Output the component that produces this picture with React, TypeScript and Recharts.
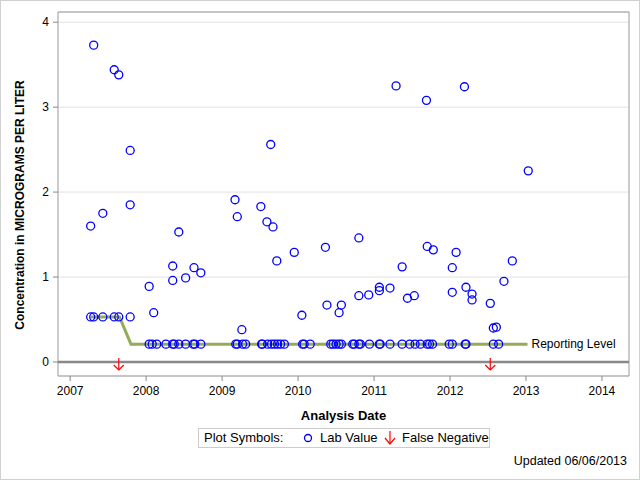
import React from "react";
import {
  ScatterChart,
  Scatter,
  XAxis,
  YAxis,
  CartesianGrid,
  ReferenceLine,
  ReferenceArea,
} from "recharts";

// lab values (decimal year, micrograms per liter)
const labDates = [
  2007.31, 2007.58, 2007.64, 2007.79, 2007.79, 2007.27, 2007.43,
  2008.04, 2008.10, 2008.35, 2008.35, 2008.43, 2008.52, 2008.63, 2008.72,
  2009.17, 2009.20, 2009.26, 2009.51, 2009.59, 2009.64, 2009.67, 2009.72, 2009.95,
  2010.05, 2010.36, 2010.38, 2010.54, 2010.57, 2010.80, 2010.80, 2010.93,
  2011.07, 2011.07, 2011.21, 2011.29, 2011.37, 2011.44, 2011.53, 2011.69, 2011.70, 2011.78,
  2012.03, 2012.03, 2012.08, 2012.19, 2012.21, 2012.29, 2012.29, 2012.53, 2012.57, 2012.61,
  2012.71, 2012.82, 2013.03,
];
const labValues = [
  3.73, 3.44, 3.38, 2.49, 1.85, 1.6, 1.75,
  0.89, 0.58, 1.13, 0.96, 1.53, 0.99, 1.11, 1.05,
  1.91, 1.71, 0.38, 1.83, 1.65, 2.56, 1.59, 1.19, 1.29,
  0.55, 1.35, 0.67, 0.58, 0.67, 1.46, 0.78, 0.79,
  0.88, 0.84, 0.87, 3.25, 1.12, 0.75, 0.78, 3.08, 1.36, 1.32,
  1.11, 0.82, 1.29, 3.24, 0.88, 0.8, 0.73, 0.69, 0.4, 0.41,
  0.95, 1.19, 2.25,
];

// values reported at the reporting level
const atLevelDatesHigh = [2007.27, 2007.31, 2007.43, 2007.58, 2007.64, 2007.79];
const atLevelDatesLow = [
  2008.04, 2008.08, 2008.14, 2008.26, 2008.35, 2008.37, 2008.43, 2008.52, 2008.62, 2008.64, 2008.72,
  2009.18, 2009.20, 2009.27, 2009.31, 2009.52, 2009.53, 2009.60, 2009.65, 2009.69, 2009.73, 2009.77,
  2009.82, 2010.06, 2010.08, 2010.16, 2010.43, 2010.46, 2010.50, 2010.54, 2010.57, 2010.72, 2010.74,
  2010.80, 2010.82, 2010.94, 2011.07, 2011.08, 2011.21, 2011.37, 2011.47, 2011.54, 2011.61, 2011.70,
  2011.73, 2011.77, 2011.99, 2012.03, 2012.20, 2012.21, 2012.57, 2012.64,
];
const levelHigh = 0.53;
const levelLow = 0.21;

// reporting level step line
const rlDates = [2007.27, 2007.65, 2007.8, 2013.02];
const rlValues = [0.53, 0.53, 0.21, 0.21];

// false negatives
const fnDates = [2007.64, 2012.53];

const xTicks = [2007, 2008, 2009, 2010, 2011, 2012, 2013, 2014];
const yTicks = [0, 1, 2, 3, 4];
const X_MIN = 2006.84;
const X_MAX = 2014.356;
const Y_MIN = -0.165;
const Y_MAX = 4.12;

const labData = [
  ...labDates.map((x, i) => ({ x, y: labValues[i] })),
  ...atLevelDatesHigh.map((x) => ({ x, y: levelHigh })),
  ...atLevelDatesLow.map((x) => ({ x, y: levelLow })),
];
const rlData = rlDates.map((x, i) => ({
  x,
  y: rlValues[i],
  label: i === rlDates.length - 1 ? "Reporting Level" : "",
}));
const fnData = fnDates.map((x) => ({ x, y: 0 }));

const FONT = "'Liberation Sans', Arial, sans-serif";

const Circle = (p: any) => (
  <circle cx={p.cx} cy={p.cy} r={4} fill="none" stroke="#0000ff" strokeWidth={1.3} />
);

const Arrow = (p: any) => (
  <g stroke="#ff0000" strokeWidth={1.2} fill="none">
    <line x1={p.cx} y1={p.cy - 4} x2={p.cx} y2={p.cy + 8} />
    <polyline points={`${p.cx - 5},${p.cy + 3} ${p.cx},${p.cy + 8} ${p.cx + 5},${p.cy + 3}`} />
  </g>
);

const LevelLabel = (p: any) =>
  p.payload && p.payload.label ? (
    <text x={p.cx + 4} y={p.cy} dy={4} fontSize={12} fill="#000" fontFamily={FONT}>
      {p.payload.label}
    </text>
  ) : (
    <g />
  );

export default function App() {
  return (
    <div style={{ position: "absolute", left: 0, top: 0, width: 640, height: 480, background: "#fff", fontFamily: FONT }}>
      <ScatterChart width={640} height={480} margin={{ top: 12, right: 11, left: 0, bottom: 54 }}>
        <CartesianGrid vertical={false} stroke="#e2e2e2" />
        <XAxis
          type="number"
          dataKey="x"
          domain={[X_MIN, X_MAX]}
          ticks={xTicks}
          allowDataOverflow
          height={50}
          axisLine={false}
          tickSize={5}
          tickMargin={5}
          tickLine={{ stroke: "#888" }}
          tick={{ fontSize: 12, fill: "#000", fontFamily: FONT }}
          label={{ value: "Analysis Date", position: "insideBottom", offset: 6, fontSize: 13, fontWeight: "bold", fill: "#000", fontFamily: FONT }}
        />
        <YAxis
          type="number"
          dataKey="y"
          domain={[Y_MIN, Y_MAX]}
          ticks={yTicks}
          allowDataOverflow
          width={58}
          axisLine={false}
          tickSize={5}
          tickMargin={4}
          tickLine={{ stroke: "#888" }}
          tick={{ fontSize: 12, fill: "#000", fontFamily: FONT }}
          label={(props: any) => {
            const vb = props.viewBox || {};
            const cy = (vb.y ?? 12) + (vb.height ?? 364) / 2 + 11;
            return (
              <text
                x={20}
                y={cy}
                transform={`rotate(-90 20 ${cy})`}
                textAnchor="middle"
                dominantBaseline="central"
                fontSize={12}
                fontWeight="bold"
                fill="#000"
                fontFamily={FONT}
              >
                Concentration in MICROGRAMS PER LITER
              </text>
            );
          }}
        />
        <ReferenceLine y={0} stroke="#888" strokeWidth={2.5} />
        <Scatter
          data={rlData}
          line={{ stroke: "#93ad57", strokeWidth: 3 }}
          lineType="joint"
          shape={LevelLabel}
          isAnimationActive={false}
        />
        <Scatter data={labData} shape={Circle} isAnimationActive={false} />
        <Scatter data={fnData} shape={Arrow} isAnimationActive={false} />
        <ReferenceArea x1={X_MIN} x2={X_MAX} y1={Y_MIN} y2={Y_MAX} fill="none" stroke="#999" strokeWidth={1} ifOverflow="visible" />
      </ScatterChart>

      <div
        style={{
          position: "absolute",
          left: 198,
          top: 428,
          width: 292,
          height: 20,
          border: "1px solid #ccc",
          boxSizing: "border-box",
          fontSize: 13,
          color: "#000",
        }}
      >
        <span style={{ position: "absolute", left: 5, top: 1 }}>Plot Symbols:</span>
        <svg style={{ position: "absolute", left: 104, top: 4 }} width={10} height={10}>
          <circle cx={5} cy={5} r={3.5} fill="none" stroke="#0000ff" strokeWidth={1.3} />
        </svg>
        <span style={{ position: "absolute", left: 121, top: 1 }}>Lab Value</span>
        <svg style={{ position: "absolute", left: 185, top: 2 }} width={12} height={14}>
          <g stroke="#ff0000" strokeWidth={1.2} fill="none">
            <line x1={6} y1={0} x2={6} y2={13} />
            <polyline points="1,7 6,13 11,7" />
          </g>
        </svg>
        <span style={{ position: "absolute", left: 203, top: 1 }}>False Negative</span>
      </div>
      <div style={{ position: "absolute", right: 13, top: 454, fontSize: 12.5, color: "#000" }}>Updated 06/06/2013</div>
      <div
        style={{
          position: "absolute",
          left: 0,
          top: 0,
          width: 640,
          height: 480,
          border: "1px solid #d0d0d0",
          boxSizing: "border-box",
          pointerEvents: "none",
        }}
      />
    </div>
  );
}
